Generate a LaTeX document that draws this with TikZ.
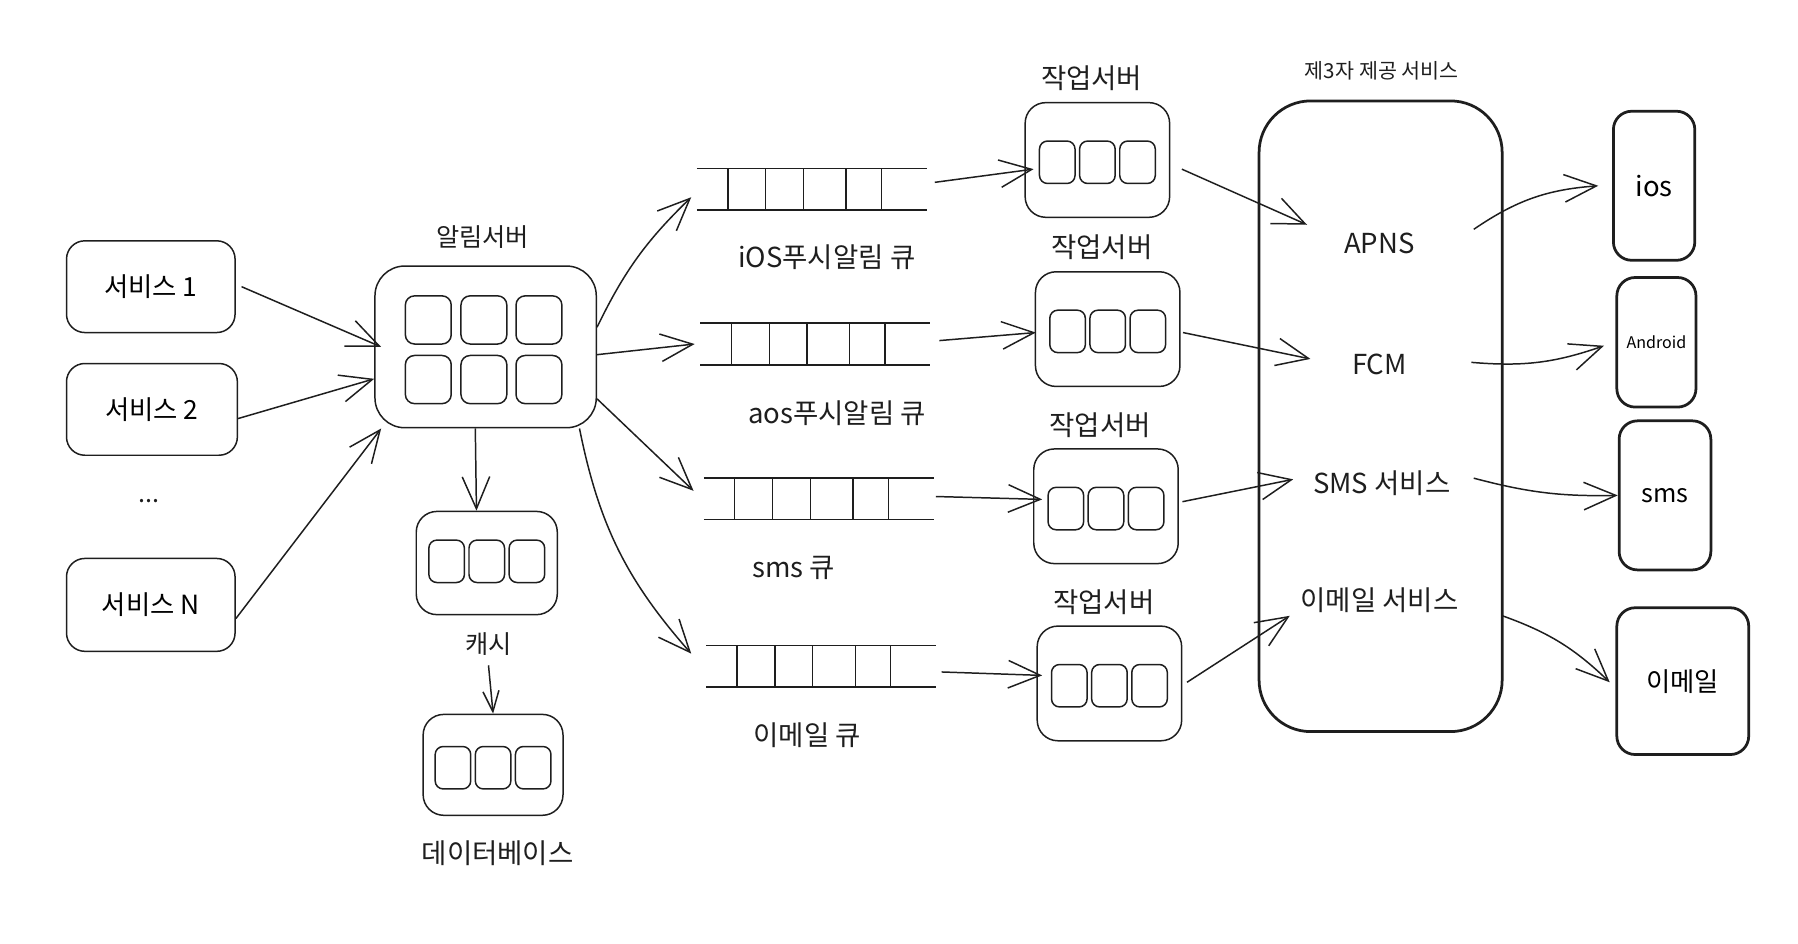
\documentclass[tikz,border=0pt]{standalone}
\usepackage{fontspec}
\setmainfont{Noto Sans CJK KR}
\usepackage{tikz}
\usetikzlibrary{arrows.meta,calc}
\definecolor{sketchink}{RGB}{30,30,30}

\tikzset{
  box/.style={draw=sketchink, line width=1.3pt, rounded corners=16pt, inner sep=0pt,
    font=\fontsize{23}{27}\selectfont},
  cell/.style={draw=sketchink, line width=1.3pt, rounded corners=7pt, inner sep=0pt,
    minimum width=31pt, minimum height=37pt},
  device/.style={draw=sketchink, line width=2.4pt, rounded corners=16pt, inner sep=0pt,
    font=\fontsize{22}{26}\selectfont},
  txt/.style={inner sep=0pt, text=sketchink, font=\fontsize{22}{26}\selectfont},
  bigtxt/.style={txt, font=\fontsize{24}{28}\selectfont},
  svclabel/.style={txt, minimum width=140pt, font=\fontsize{24}{28}\selectfont},
  queue/.style={inner sep=0pt, minimum width=200pt, minimum height=36pt},
  qline/.style={draw=sketchink, line width=1.2pt},
  arr/.style={draw=sketchink, line width=1.3pt, -{Straight Barb[length=28pt,width=24pt]}},
  shortarr/.style={draw=sketchink, line width=1.3pt, -{Straight Barb[length=18pt,width=14pt]}}
}

\begin{document}
\begin{tikzpicture}[x=1pt, y=-1pt]
\useasboundingbox (0,0) rectangle (1568,823);

\node[box, minimum width=147pt, minimum height=80pt] (svcone) at (131.5,250) {서비스 1};
\node[box, minimum width=149pt, minimum height=80pt] (svctwo) at (132.5,357) {서비스 2};
\node[txt] (dots) at (130,437) {...};
\node[box, minimum width=147pt, minimum height=81pt] (svcn) at (131.5,527.5) {서비스 N};

\node[box, rounded corners=26pt, minimum width=193pt, minimum height=141pt] (notif) at (423.5,302.5) {};
\node[txt] (notiflabel) at (421,207) {알림서버};
\foreach \i/\x/\y in {1/373.5/279, 2/422/279, 3/470/279, 4/373.5/331, 5/422/331, 6/470/331}
  \node[cell, minimum width=40pt, minimum height=42pt, rounded corners=8pt] (notif-\i) at (\x,\y) {};

\node[box, rounded corners=18pt, minimum width=123pt, minimum height=90pt] (cache) at (424.5,491) {};
\foreach \i/\dx in {1/-35, 2/0, 3/35}
  \node[cell] (cache-\i) at (424.5+\dx,489.5) {};
\node[txt] (cachelabel) at (426,562) {캐시};

\node[box, rounded corners=18pt, minimum width=122pt, minimum height=88pt] (db) at (430,667) {};
\foreach \i/\dx in {1/-35, 2/0, 3/35}
  \node[cell] (db-\i) at (430+\dx,669.5) {};
\node[bigtxt] (dblabel) at (434,744) {데이터베이스};

\foreach \q/\x/\y in {qios/608/147, qaos/611/282, qsms/614/417, qmail/616/563} {
  \node[queue] (\q) at (\x+100,\y+18) {};
  \draw[qline] (\q.north west) -- (\q.north east) (\q.south west) -- (\q.south east);
  \foreach \d in {27,60,93,130,161}
    \draw[qline] ($(\q.north west)+(\d,0)$) -- ($(\q.south west)+(\d,0)$);
}
\node[bigtxt] (qioslabel) at (721,224) {iOS푸시알림 큐};
\node[bigtxt] (qaoslabel) at (730,360) {aos푸시알림 큐};
\node[bigtxt] (qsmslabel) at (692,495) {sms 큐};
\node[bigtxt] (qmaillabel) at (704,641) {이메일 큐};

\foreach \w/\x/\y in {w1/957/139.5, w2/966/287, w3/964.5/441.5, w4/967.5/596} {
  \node[box, rounded corners=18pt, minimum width=126pt, minimum height=100pt] (\w) at (\x,\y) {};
  \node[bigtxt] (\w label) at (\x-5,\y-71) {작업서버};
  \foreach \i/\dx in {1/-35, 2/0, 3/35}
    \node[cell] (\w-\i) at (\x+\dx,\y+2) {};
}

\node[device, rounded corners=45pt, minimum width=212pt, minimum height=550pt] (thirdparty) at (1204,363) {};
\node[txt, font=\fontsize{18}{21}\selectfont] (thirdlabel) at (1205,62) {제3자 제공 서비스};
\node[svclabel] (apns) at (1203,212) {APNS};
\node[svclabel] (fcm) at (1203,318) {FCM};
\node[svclabel] (smssvc) at (1205,421) {SMS 서비스};
\node[svclabel] (mailsvc) at (1203,523) {이메일 서비스};

\node[device, minimum width=71pt, minimum height=130pt, font=\fontsize{24}{28}\selectfont] (ios) at (1442.5,162) {ios};
\node[device, minimum width=69pt, minimum height=113pt, font=\fontsize{14}{16}\selectfont] (android) at (1444.5,298.5) {Android};
\node[device, minimum width=80pt, minimum height=130pt] (sms) at (1452,432) {sms};
\node[device, minimum width=115pt, minimum height=128pt, font=\fontsize{23}{27}\selectfont] (mail) at (1467.5,594) {이메일};

\draw[arr] ([xshift=5pt]svcone.east) -- ([xshift=6pt]notif.west);
\draw[arr] ([yshift=-8pt]svctwo.east) -- (notif.196);
\draw[arr] ([yshift=-12pt]svcn.east) -- (notif.218);
\draw[arr] ([xshift=-9pt]notif.south) -- ([xshift=-9pt]cache.north);
\draw[shortarr] ([yshift=-8pt]cachelabel.south) -- (db.north);

\draw[arr] (notif.10) to[bend left=10] ([shift={(-5,7)}]qios.west);
\draw[arr] (notif.-4) -- ([xshift=-5pt]qaos.west);
\draw[arr] (notif.-25) -- ([shift={(-9,-7)}]qsms.west);
\draw[arr] (notif.-41) to[bend right=15] ([shift={(-13,-11)}]qmail.west);

\draw[arr] ([shift={(7,-6)}]qios.east) -- ([shift={(8,8)}]w1.west);
\draw[arr] ([shift={(8,-3)}]qaos.east) -- ([shift={(1,3)}]w2.west);
\draw[arr] ([shift={(2,-2)}]qsms.east) -- ([shift={(8,-6)}]w3.west);
\draw[arr] ([shift={(5,5)}]qmail.east) -- ([shift={(5,-7)}]w4.west);

\draw[arr] ([shift={(10,8)}]w1.east) -- ([shift={(7,-16)}]apns.west);
\draw[arr] ([shift={(2,3)}]w2.east) -- ([shift={(10,-5)}]fcm.west);
\draw[arr] ([shift={(3,-4)}]w3.east) -- ([shift={(-7,-3)}]smssvc.west);
\draw[arr] ([shift={(4,-1)}]w4.east) -- ([shift={(-8,14)}]mailsvc.west);

\draw[arr] ([shift={(12,-12)}]apns.east) to[bend left=15] ([xshift=-12pt]ios.west);
\draw[arr] ([shift={(10,-2)}]fcm.east) to[bend right=12] ([shift={(-10,3)}]android.west);
\draw[arr] ([shift={(10,-4)}]smssvc.east) to[bend right=8] (sms.west);
\draw[arr] ([shift={(37,14)}]mailsvc.east) to[bend left=12] ([shift={(-5,1)}]mail.west);
\end{tikzpicture}
\end{document}
